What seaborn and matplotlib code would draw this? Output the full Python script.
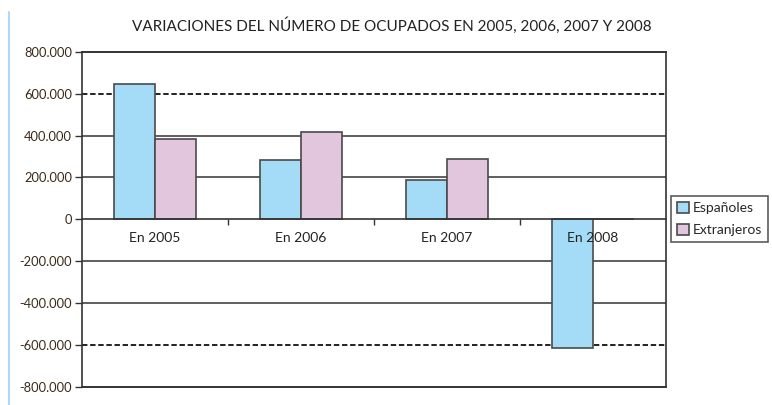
import pandas as pd
import seaborn as sns
import matplotlib.pyplot as plt
from matplotlib.lines import Line2D
from matplotlib.ticker import FuncFormatter

# Datos (variación del número de ocupados)
anios = ["En 2005", "En 2006", "En 2007", "En 2008"]
espanoles = [645000, 284000, 189000, -615000]
extranjeros = [382000, 415000, 290000, 0]
grupos = ["Españoles", "Extranjeros"]
yticks = [-800000, -600000, -400000, -200000, 0, 200000, 400000, 600000, 800000]

df = pd.DataFrame({
    "anio": anios * 2,
    "valor": espanoles + extranjeros,
    "grupo": [grupos[0]] * 4 + [grupos[1]] * 4,
})

sns.set_style("white")
plt.rcParams["font.family"] = ["Lato", "DejaVu Sans"]

fig = plt.figure(figsize=(7.72, 4.05), dpi=100)
ax = fig.add_axes([82 / 772, 1 - 386.5 / 405, (666 - 82) / 772, (386.5 - 52) / 405])

sns.barplot(data=df, x="anio", y="valor", hue="grupo", ax=ax,
            palette=["#A4DCF7", "#E2C6DD"], width=0.566,
            edgecolor="#4a4a4a", linewidth=1.2, saturation=1, zorder=2)
ax.set_axisbelow(False)

ax.set_ylim(-800000, 800000)
ax.set_xlim(-0.5, 3.5)
ax.set_yticks(yticks)
ax.yaxis.set_major_formatter(FuncFormatter(lambda v, p: f"{int(v):,}".replace(",", ".")))
ax.tick_params(axis="y", length=5, width=1, color="#333333", labelsize=9.3,
               labelcolor="#3a2a1a", pad=2, left=True)

# líneas de la cuadrícula: discontinuas en ±600.000, continuas en el resto
for t in yticks[1:-1]:
    if t == 0:
        continue
    if abs(t) == 600000:
        ax.axhline(t, color="#111111", lw=1.3, ls=(0, (3, 1.5)), zorder=1)
    else:
        ax.axhline(t, color="#333333", lw=1.1, zorder=1)

# eje x en el cero, marco completo alrededor
ax.spines["bottom"].set_position(("data", 0))
for s in ["left", "right", "top", "bottom"]:
    ax.spines[s].set_visible(True)
    ax.spines[s].set_color("#333333")
    ax.spines[s].set_linewidth(1.2)
ax.axhline(-800000, color="#333333", lw=1.4, clip_on=False, zorder=3)
ax.spines["top"].set_linewidth(1.4)

ax.set_xticks([0.5, 1.5, 2.5], minor=True)
ax.tick_params(axis="x", which="minor", length=4, width=1, color="#333333", direction="out", bottom=True)
ax.tick_params(axis="x", which="major", length=0, pad=9, labelsize=10, labelcolor="#222222")
ax.set_xlabel("")
ax.set_ylabel("")

fig.suptitle("VARIACIONES DEL NÚMERO DE OCUPADOS EN 2005, 2006, 2007 Y 2008",
             x=0.508, y=0.957, fontsize=11, color="#222222")

leg = ax.legend(loc="center left", bbox_to_anchor=(671 / 772, 1 - 219 / 405),
                bbox_transform=fig.transFigure, fontsize=10, frameon=True,
                fancybox=False, edgecolor="#333333", handlelength=0.9,
                handleheight=0.9, handletextpad=0.3, borderpad=0.4,
                labelspacing=0.7, borderaxespad=0)
leg.get_frame().set_linewidth(1.2)

# línea decorativa azul del borde de la página
fig.add_artist(Line2D([9 / 772, 9 / 772], [0, 1 - 12 / 405], color="#A8DDF5", lw=1.5))

fig.savefig("out.png", dpi=100)
